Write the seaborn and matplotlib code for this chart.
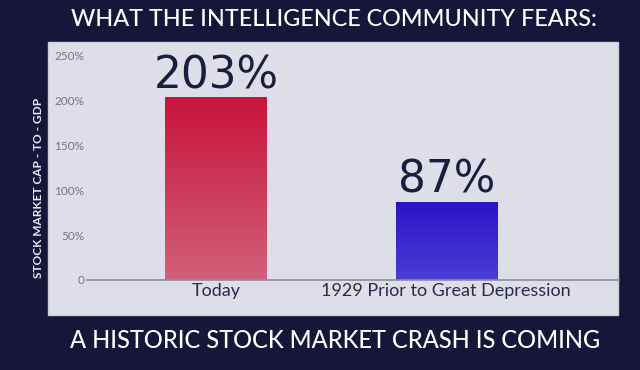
import matplotlib
matplotlib.use("Agg")
import matplotlib.pyplot as plt
from matplotlib.colors import LinearSegmentedColormap
from matplotlib.patches import Rectangle
import numpy as np
import seaborn as sns

# data
categories = ["Today", "1929 Prior to Great Depression"]
values = [203, 87]
bar_colors = ["#c8143a", "#2c12c6"]
bar_colors_low = ["#d2607a", "#4a3ed6"]   # lighter shade at the foot of each bar
yticks = [0, 50, 100, 150, 200, 250]
ytick_labels = ["0", "50%", "100%", "150%", "200%", "250%"]

title = "WHAT THE INTELLIGENCE COMMUNITY FEARS:"
subtitle = "A HISTORIC STOCK MARKET CRASH IS COMING"
ylabel = "STOCK MARKET CAP - TO - GDP"

sns.set_style("white")
plt.rcParams["font.family"] = ["Lato", "DejaVu Sans"]

W, H = 640, 370
fig = plt.figure(figsize=(6.4, 3.7), dpi=100)
fig.patch.set_facecolor("#15163a")

# light panel behind the chart
fig.patches.append(Rectangle((48 / W, 1 - 315 / H), (618 - 48) / W, (315 - 42) / H,
                             transform=fig.transFigure, facecolor="#dedee8",
                             edgecolor="#cfcfdc", linewidth=1, zorder=-5))

ax = fig.add_axes([87 / W, 1 - 280 / H, (619 - 87) / W, (280 - 47) / H])
ax.set_zorder(2)
ax.patch.set_alpha(0)

sns.barplot(x=categories, y=values, hue=categories, palette=bar_colors,
            width=0.44, legend=False, saturation=1, linewidth=0, ax=ax)

# soft vertical gradient inside each bar
grad = np.linspace(0, 1, 256).reshape(-1, 1)
for bar, top, low in zip(ax.patches, bar_colors, bar_colors_low):
    x0, y0 = bar.get_x(), bar.get_y()
    cmap = LinearSegmentedColormap.from_list("g", [low, top])
    im = ax.imshow(grad, cmap=cmap, aspect="auto", origin="lower",
                   extent=[x0, x0 + bar.get_width(), y0, y0 + bar.get_height()],
                   zorder=bar.get_zorder() + 0.1)
    im.set_clip_path(bar)
ax.set_xlim(-0.56, 1.75)
ax.set_ylim(0, 259)

for i, v in enumerate(values):
    ax.annotate(f"{v}%", (i, v), xytext=(0, 6.5), textcoords="offset points",
                ha="center", va="baseline", fontsize=31.5, color="#1c1c3e",
                family="DejaVu Sans")

ax.set_yticks(yticks)
ax.set_yticklabels(ytick_labels)
ax.tick_params(axis="y", length=0, pad=2, labelsize=8.5, labelcolor="#747488")
ax.tick_params(axis="x", length=0, pad=2, labelsize=13, labelcolor="#2a2a48")
ax.set_xlabel("")
ax.set_ylabel("")

for s in ["top", "right", "left"]:
    ax.spines[s].set_visible(False)
ax.spines["bottom"].set_color("#8c8ca2")
ax.spines["bottom"].set_linewidth(1.2)

fig.text(334 / W, 1 - 20 / H, title, ha="center", va="center",
         fontsize=16.8, color="white", fontweight="medium")
fig.text(335 / W, 1 - 341 / H, subtitle, ha="center", va="center",
         fontsize=17, color="white", fontweight="medium")
fig.text(39 / W, 1 - 188 / H, ylabel, ha="center", va="center", rotation=90,
         fontsize=8.6, color="#e8e8f0", fontweight="bold")

fig.savefig("out.png", dpi=100, facecolor=fig.get_facecolor())
